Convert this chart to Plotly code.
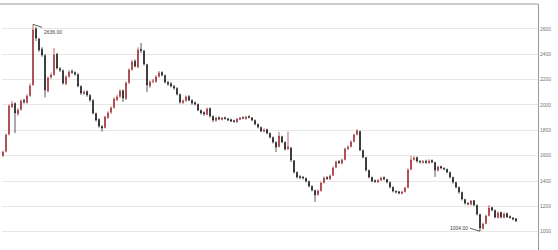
import plotly.graph_objects as go

opens = [1600,1635,1770,1985,2012,1930,1965,2036,2020,2075,2160,2600,2520,2440,2390,2110,2220,2240,2400,2285,
         2270,2168,2225,2264,2255,2240,2145,2090,2106,2075,2035,1932,1885,1830,1822,1900,1942,1980,2042,2068,
         2114,2050,2178,2280,2345,2300,2440,2425,2318,2150,2186,2185,2226,2256,2232,2178,2168,2146,2130,2082,
         2020,2035,2066,2036,2018,2004,1956,1940,1925,1972,1910,1878,1900,1886,1900,1890,1884,1876,1866,1886,
         1900,1892,1908,1898,1878,1846,1822,1792,1806,1776,1744,1705,1672,1750,1705,1655,1660,1560,1468,1436,
         1430,1420,1396,1358,1325,1294,1325,1388,1428,1416,1445,1508,1554,1540,1570,1655,1672,1712,1768,1790,
         1640,1585,1484,1428,1404,1392,1408,1428,1412,1388,1350,1318,1316,1302,1316,1350,1492,1570,1585,1554,
         1546,1556,1544,1562,1546,1484,1514,1500,1492,1468,1428,1388,1350,1310,1254,1222,1216,1245,1208,1136,
         1025,1065,1128,1190,1168,1112,1152,1112,1144,1120,1108,1102]
closes = [1629,1763,1992,2008,1937,1960,2031,2025,2071,2150,2591,2528,2434,2394,2118,2213,2236,2394,2292,2276,
          2173,2221,2260,2258,2244,2150,2094,2102,2079,2039,1937,1881,1834,1818,1905,1937,1976,2047,2063,2110,
          2055,2173,2276,2339,2307,2434,2430,2323,2157,2181,2189,2221,2252,2236,2181,2165,2150,2134,2086,2023,
          2031,2063,2039,2015,2008,1960,1937,1929,1968,1913,1881,1897,1889,1897,1893,1881,1873,1870,1889,1897,
          1895,1905,1902,1881,1850,1826,1795,1802,1779,1747,1708,1668,1755,1708,1652,1668,1566,1471,1432,1428,
          1424,1400,1361,1329,1290,1321,1384,1424,1420,1440,1503,1550,1545,1566,1652,1668,1708,1763,1795,1645,
          1589,1487,1432,1400,1396,1404,1424,1416,1392,1353,1321,1313,1305,1313,1345,1487,1566,1581,1558,1550,
          1553,1547,1558,1550,1487,1510,1503,1495,1471,1432,1392,1353,1313,1258,1226,1219,1242,1211,1140,1029,
          1061,1124,1187,1171,1116,1148,1116,1140,1116,1112,1100,1084]
highs = [1640,1775,2005,2030,2020,1975,2045,2050,2085,2170,2636,2615,2530,2455,2400,2225,2255,2449,2410,2300,
         2280,2235,2275,2280,2265,2250,2155,2115,2115,2085,2045,1940,1895,1840,1915,1950,1990,2060,2080,2125,
         2120,2185,2290,2355,2360,2455,2489,2435,2325,2195,2205,2235,2268,2265,2240,2190,2180,2158,2140,2090,
         2045,2075,2078,2045,2028,2012,1965,1950,1980,1980,1918,1908,1910,1906,1908,1898,1892,1884,1898,1906,
         1910,1915,1918,1905,1885,1855,1830,1815,1812,1782,1750,1712,1787,1758,1712,1790,1668,1565,1475,1445,
         1440,1428,1402,1365,1332,1335,1395,1435,1438,1452,1515,1562,1565,1578,1665,1682,1720,1775,1810,1798,
         1648,1590,1490,1435,1412,1415,1435,1436,1418,1395,1356,1326,1322,1322,1355,1500,1600,1596,1592,1565,
         1565,1568,1572,1570,1552,1522,1520,1508,1498,1474,1434,1394,1356,1316,1260,1232,1250,1250,1214,1140,
         1072,1135,1211,1198,1175,1160,1158,1152,1150,1128,1115,1108]
lows = [1590,1625,1760,1975,1778,1915,1955,2010,2010,2065,2150,2505,2420,2380,2060,2100,2205,2230,2280,2260,
        2160,2155,2215,2245,2230,2140,2080,2080,2065,2025,1925,1870,1820,1790,1815,1890,1930,1970,2030,2055,
        2023,2040,2165,2270,2295,2290,2410,2310,2102,2135,2170,2175,2215,2225,2170,2150,2138,2120,2075,2010,
        2008,2025,2030,2002,1995,1950,1925,1915,1918,1900,1865,1870,1880,1878,1884,1872,1865,1860,1860,1880,
        1888,1885,1895,1872,1840,1815,1785,1785,1768,1735,1695,1629,1665,1698,1640,1645,1550,1460,1420,1415,
        1412,1388,1350,1318,1235,1285,1315,1380,1408,1408,1438,1500,1535,1532,1562,1645,1665,1705,1760,1635,
        1578,1475,1420,1390,1385,1385,1400,1405,1382,1342,1310,1302,1295,1295,1308,1342,1485,1560,1545,1538,
        1538,1535,1535,1540,1432,1476,1492,1485,1460,1420,1380,1342,1300,1246,1214,1208,1208,1200,1128,1004,
        1018,1058,1120,1160,1105,1105,1105,1106,1108,1102,1090,1078]
y_ticks = [1000, 1200, 1400, 1600, 1800, 2000, 2200, 2400, 2600]

idx = list(range(len(closes)))

fig = go.Figure()
fig.add_trace(go.Candlestick(
    x=idx, open=opens, high=highs, low=lows, close=closes,
    increasing=dict(line=dict(color="#9e2a2f", width=0.7), fillcolor="#9e2a2f"),
    decreasing=dict(line=dict(color="#111111", width=0.7), fillcolor="#111111"),
    whiskerwidth=0, showlegend=False, hoverinfo="skip",
))

imax = max(idx, key=lambda i: highs[i])
imin = min(idx, key=lambda i: lows[i])
fig.add_annotation(x=imax, y=highs[imax], text=f"{highs[imax]:.2f}", showarrow=True,
                   arrowhead=0, arrowwidth=0.8, arrowcolor="#333", ax=9, ay=3,
                   xanchor="left", yanchor="top", font=dict(size=5, color="#444", family="Liberation Sans"))
fig.add_annotation(x=imin, y=lows[imin], text=f"{lows[imin]:.2f}", showarrow=True,
                   arrowhead=0, arrowwidth=0.8, arrowcolor="#333", ax=-10, ay=-3,
                   xanchor="right", yanchor="middle", font=dict(size=5, color="#444", family="Liberation Sans"))

fig.add_shape(type="line", xref="paper", yref="paper", x0=-0.004, x1=1, y0=1, y1=1,
              line=dict(color="#999999", width=1))

fig.update_layout(
    width=558, height=250,
    margin=dict(l=2, r=20, t=4, b=0),
    paper_bgcolor="white", plot_bgcolor="white",
    boxgap=0.6,
    xaxis=dict(range=[-1/3, -1/3 + 536/3], visible=False, rangeslider=dict(visible=False)),
    yaxis=dict(range=[855.6, 2796.6], side="right", tickvals=y_ticks,
               ticktext=[str(v) for v in y_ticks], showgrid=True, gridcolor="#e6e6e6", gridwidth=1,
               showline=True, linecolor="#999999", linewidth=1, ticks="", zeroline=False,
               tickfont=dict(size=5, color="#777", family="Liberation Sans")),
)

fig.write_html("out.html")
